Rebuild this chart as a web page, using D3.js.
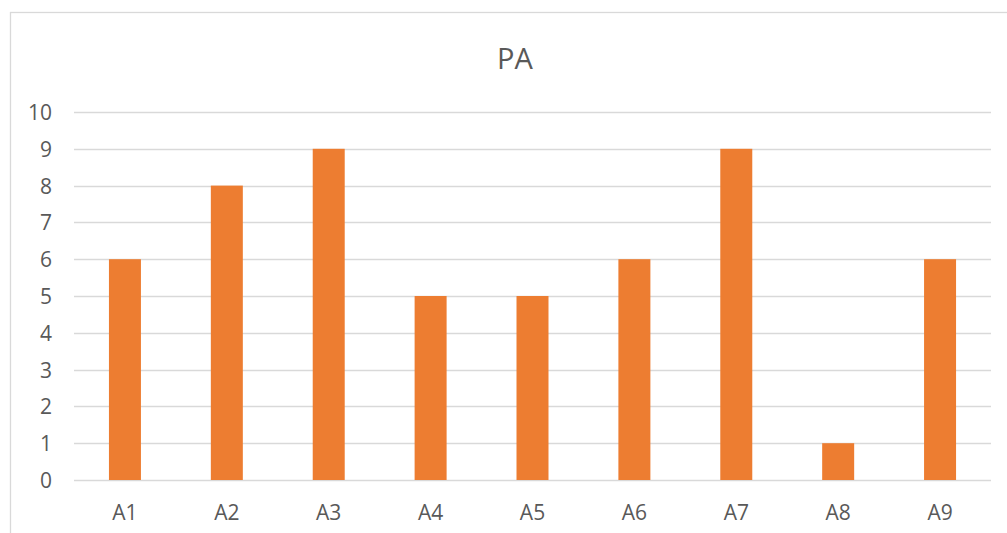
<!DOCTYPE html>
<html><head><meta charset="utf-8">
<script src="https://cdn.jsdelivr.net/npm/d3@7"></script>
<style>body{margin:0;background:#fff;} svg{display:block;}</style>
</head><body>
<svg id="c" width="1007" height="533"></svg>
<script>
const categories = ["A1","A2","A3","A4","A5","A6","A7","A8","A9"];
const values = [6,8,9,5,5,6,9,1,6];
const yTicks = [0,1,2,3,4,5,6,7,8,9,10];
const title = "PA";

const svg = d3.select("#c");
const font = "'Open Sans', 'Noto Sans', sans-serif";
const textColor = "#595959";
const m = {left:74, right:991, top:112, bottom:480};

svg.append("rect").attr("x",10.5).attr("y",12.5).attr("width",1100).attr("height",600)
  .attr("fill","#fff").attr("stroke","#d9d9d9").attr("stroke-width",1.3);

const x = d3.scaleBand().domain(categories).range([m.left,m.right]).paddingInner(0.686).paddingOuter(0.343);
const y = d3.scaleLinear().domain([0,10]).range([m.bottom,m.top]);

// gridlines
svg.append("g").selectAll("line").data(yTicks).join("line")
  .attr("x1",m.left).attr("x2",m.right)
  .attr("y1",d=>Math.round(y(d))+0.5).attr("y2",d=>Math.round(y(d))+0.5)
  .attr("stroke","#d9d9d9").attr("stroke-width",1.3);

// y axis labels
const yAxis = d3.axisLeft(y).tickValues(yTicks).tickSize(0).tickPadding(0).tickFormat(d3.format("d"));
const gy = svg.append("g").attr("transform","translate(52,0)").call(yAxis);
gy.select(".domain").remove();
gy.selectAll("text").attr("dy","0.36em").attr("fill",textColor).style("font-family",font).style("font-size","21px");

// bars
svg.append("g").selectAll("rect").data(values).join("rect")
  .attr("x",(d,i)=>x(categories[i]))
  .attr("width",x.bandwidth())
  .attr("y",d=>y(d))
  .attr("height",d=>y(0)-y(d))
  .attr("fill","#ed7d31");

// x axis labels
const xAxis = d3.axisBottom(x).tickSize(0).tickPadding(0);
const gx = svg.append("g").attr("transform","translate(0,505)").call(xAxis);
gx.select(".domain").remove();
gx.selectAll("text").attr("fill",textColor).style("font-family",font).style("font-size","21px");

// title
svg.append("text").attr("x",515).attr("y",68.5).attr("text-anchor","middle")
  .attr("fill",textColor).style("font-family",font).style("font-size","29px").text(title);
</script>
</body></html>
